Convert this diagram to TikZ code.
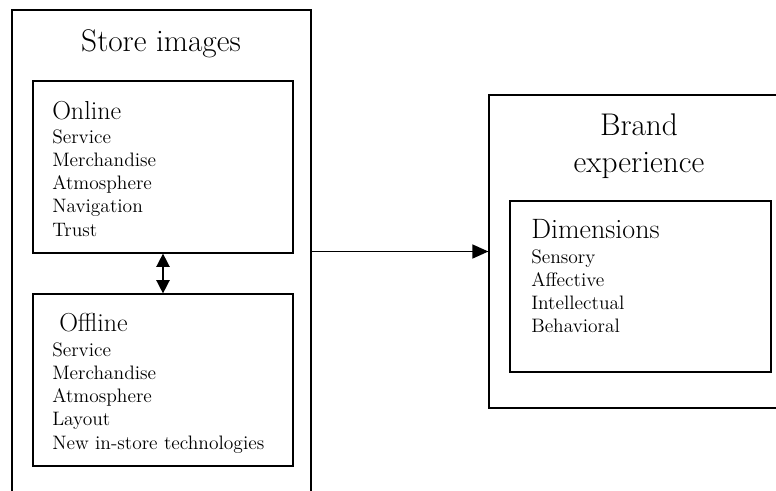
\documentclass[tikz,border=0pt]{standalone}
\usetikzlibrary{arrows.meta,fit}
\tikzset{
  box/.style={draw,line width=0.9pt,inner sep=0pt},
  title/.style={anchor=base,inner sep=0pt,font=\fontsize{23.5}{28}\selectfont},
  head/.style={anchor=base west,inner sep=0pt,font=\fontsize{19.5}{23}\selectfont},
  item/.style={anchor=base west,inner sep=0pt,font=\fontsize{14.6}{17}\selectfont},
  tip/.style={line width=1.1pt,#1},
}
\begin{document}
\begin{tikzpicture}[x=0.75pt,y=-0.75pt]
  \useasboundingbox (0,0) rectangle (776,490);
  \clip (0,0) rectangle (776,490);
  %% Boxes
  \node[box,fit={(12,10) (311,520)}] (store) {};
  \node[box,fit={(33,81) (293,253)}] (online) {};
  \node[box,fit={(33,294) (293,466)}] (offline) {};
  \node[box,fit={(489,95) (800,408)}] (brand) {};
  \node[box,fit={(510,201) (771,372)}] (dims) {};
  %% Store images
  \node[title] (storetitle) at (161,51) {Store images};
  \node[head] (onlinehead) at (52,119) {Online};
  \foreach \t [count=\i] in {Service,Merchandise,Atmosphere,Navigation,Trust}
    \node[item] (on\i) at (52,{120+23.2*\i}) {\t};
  \node[head] (offlinehead) at (59,331) {Offline};
  \foreach \t [count=\i] in {Service,Merchandise,Atmosphere,Layout,New in-store technologies}
    \node[item] (off\i) at (52,{333+23.2*\i}) {\t};
  %% Brand experience
  \node[title] (brandtitle) at (639,135) {Brand};
  \node[title] (brandtitle2) at (639,172) {experience};
  \node[head,font=\fontsize{21}{25}\selectfont] (dimshead) at (531,238) {Dimensions};
  \foreach \t [count=\i] in {Sensory,Affective,Intellectual,Behavioral}
    \node[item] (dim\i) at (531,{240+23.2*\i}) {\t};
  %% Arrows
  \draw[tip={{Triangle[length=10pt,width=10pt]}-{Triangle[length=10pt,width=10pt]}}] (online) -- (offline);
  \draw[tip={-{Triangle[length=12pt,width=10.5pt]}}] (brand.west -| store.east) -- (brand.west);
\end{tikzpicture}
\end{document}
